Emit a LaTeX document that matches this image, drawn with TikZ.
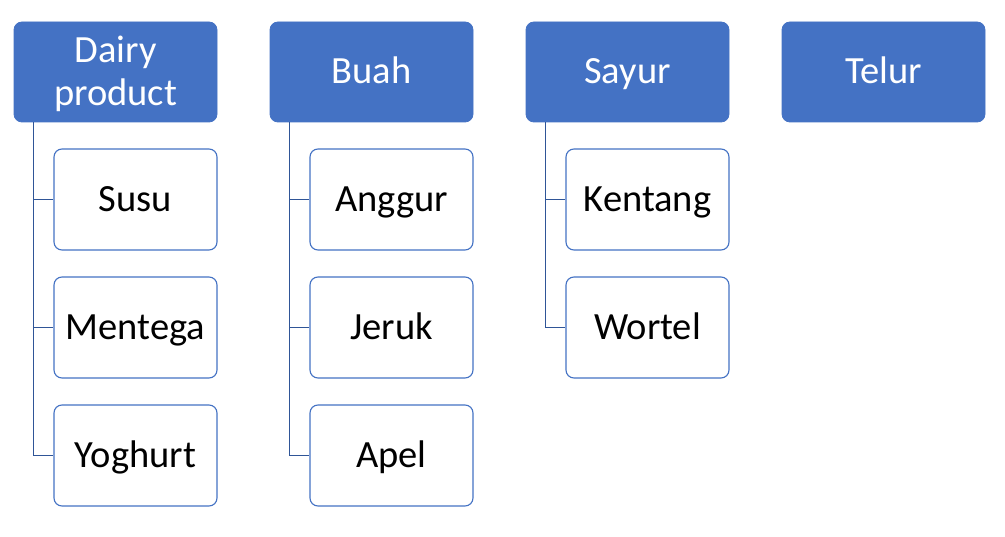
\documentclass[tikz,border=0pt]{standalone}
\usepackage{fontspec}
\setmainfont{Carlito}
\definecolor{boxblue}{HTML}{4472C4}
\definecolor{linkblue}{HTML}{2F5597}
\begin{document}
\begin{tikzpicture}[x=1pt,y=-1pt,
  topbox/.style={draw=boxblue,fill=boxblue,rounded corners=8pt,minimum width=203pt,minimum height=100pt,inner sep=0pt,text=white,font=\fontsize{38.5}{43}\selectfont,align=center,line width=0.8pt},
  childbox/.style={draw=boxblue,fill=white,rounded corners=8pt,minimum width=163pt,minimum height=101pt,inner sep=0pt,text=black,font=\fontsize{38.5}{43}\selectfont,line width=1.1pt},
  oneline/.style={text height=31pt,text depth=7pt},
  link/.style={draw=linkblue,line width=1.4pt}]
\useasboundingbox (0,0) rectangle (1005,537);
\fill[white] (0,0) rectangle (1005,537);
% top boxes
\node[topbox] (dairy) at (115.5,72) {};
\node[text=white,font=\fontsize{38.5}{43}\selectfont,align=center,inner sep=0pt] (dairytext) at (115.5,73.5) {Dairy\\product};
\node[topbox,oneline] (buah) at (371.5,72) {Buah};
\node[topbox,oneline] (sayur) at (627.5,72) {Sayur};
\node[topbox,oneline] (telur) at (883.5,72) {Telur};
% children
\node[childbox,oneline] (susu) at (135.5,199.5) {Susu};
\node[childbox,oneline] (mentega) at (135.5,327.5) {Mentega};
\node[childbox,oneline] (yoghurt) at (135.5,455.5) {Yoghurt};
\node[childbox,oneline] (anggur) at (391.5,199.5) {Anggur};
\node[childbox,oneline] (jeruk) at (391.5,327.5) {Jeruk};
\node[childbox,oneline] (apel) at (391.5,455.5) {Apel};
\node[childbox,oneline] (kentang) at (647.5,199.5) {Kentang};
\node[childbox,oneline] (wortel) at (647.5,327.5) {Wortel};
% connectors
\foreach \p/\c in {dairy/susu,dairy/mentega,dairy/yoghurt,buah/anggur,buah/jeruk,buah/apel,sayur/kentang,sayur/wortel}{
  \draw[link] ([xshift=20pt]\p.south west) |- (\c.west);
}
\end{tikzpicture}
\end{document}
